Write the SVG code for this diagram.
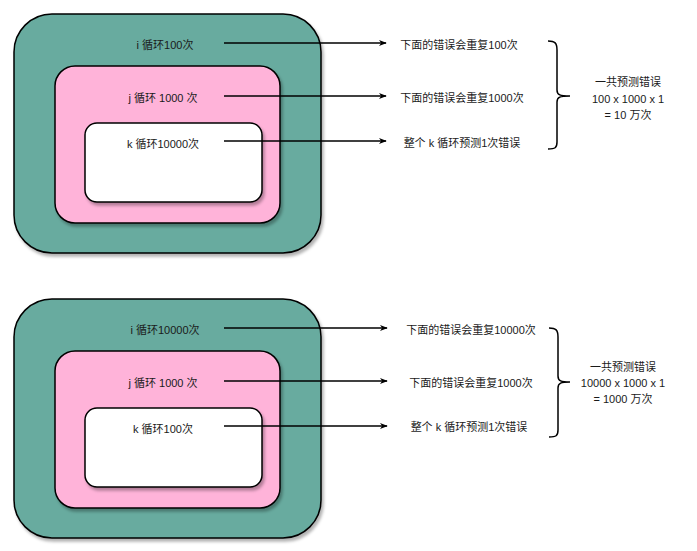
<svg xmlns="http://www.w3.org/2000/svg" width="697" height="551" viewBox="0 0 697 551">
<defs>
<filter id="sh" x="-10%" y="-10%" width="120%" height="120%">
<feDropShadow dx="2" dy="3" stdDeviation="1.5" flood-color="#000" flood-opacity="0.3"/>
</filter>
<marker id="ar" viewBox="0 0 10 10" refX="9" refY="5" markerWidth="8" markerHeight="8" orient="auto" markerUnits="userSpaceOnUse">
<path d="M0,1 L10,5 L0,9 L3,5 Z" fill="#000"/>
</marker>
</defs>
<style>
.outer{fill:#67AB9F;stroke:#000;stroke-width:1.5}
.mid{fill:#FFB3D9;stroke:#000;stroke-width:1.5}
.inner{fill:#FFFFFF;stroke:#000;stroke-width:1.5}
text{font-family:"Liberation Sans","Noto Sans CJK SC",sans-serif;font-size:11px;fill:#1a1a1a;text-anchor:middle;dominant-baseline:central}
.ln{stroke:#000;stroke-width:1.5;fill:none}
.br{stroke:#000;stroke-width:1.5;fill:none}
</style>
<rect width="697" height="551" fill="#fff"/>

<g id="top-i">
<rect class="outer" x="14" y="14" width="307" height="239" rx="38" filter="url(#sh)"/>
<text x="165" y="45">i 循环100次</text>
</g>
<g id="top-j">
<rect class="mid" x="55" y="66" width="225" height="157" rx="20" filter="url(#sh)"/>
<text x="163" y="98">j 循环 1000 次</text>
</g>
<g id="top-k">
<rect class="inner" x="85" y="123" width="177" height="79" rx="12" filter="url(#sh)"/>
<text x="163" y="144">k 循环10000次</text>
</g>
<g id="top-notes">
<text x="459" y="45">下面的错误会重复100次</text>
<text x="462" y="98">下面的错误会重复1000次</text>
<text x="462" y="143">整个 k 循环预测1次错误</text>
<text x="628" y="82">一共预测错误</text>
<text x="628" y="99">100 x 1000 x 1</text>
<text x="628" y="115">= 10 万次</text>
</g>

<g id="bottom-i">
<rect class="outer" x="14" y="299" width="307" height="239" rx="38" filter="url(#sh)"/>
<text x="165" y="330">i 循环10000次</text>
</g>
<g id="bottom-j">
<rect class="mid" x="55" y="351" width="225" height="157" rx="20" filter="url(#sh)"/>
<text x="163" y="383">j 循环 1000 次</text>
</g>
<g id="bottom-k">
<rect class="inner" x="85" y="408" width="177" height="79" rx="12" filter="url(#sh)"/>
<text x="163" y="429">k 循环100次</text>
</g>
<g id="bottom-notes">
<text x="471" y="330">下面的错误会重复10000次</text>
<text x="471" y="383">下面的错误会重复1000次</text>
<text x="469" y="427">整个 k 循环预测1次错误</text>
<text x="623" y="367">一共预测错误</text>
<text x="623" y="383">10000 x 1000 x 1</text>
<text x="623" y="399">= 1000 万次</text>
</g>

<g id="connectors">
<line class="ln" x1="224" y1="43" x2="386" y2="43" marker-end="url(#ar)"/>
<line class="ln" x1="224" y1="96" x2="386" y2="96" marker-end="url(#ar)"/>
<line class="ln" x1="224" y1="141" x2="386" y2="141" marker-end="url(#ar)"/>
<line class="ln" x1="224" y1="328" x2="387" y2="328" marker-end="url(#ar)"/>
<line class="ln" x1="224" y1="381" x2="387" y2="381" marker-end="url(#ar)"/>
<line class="ln" x1="224" y1="426" x2="387" y2="426" marker-end="url(#ar)"/>
<path class="br" d="M548,41 C555,41 557,43 557,50 L557,90 C557,95 560,96 570,96 C560,96 557,97 557,102 L557,142 C557,148 555,149 548,149"/>
<path class="br" d="M549,328 C556,328 558,330 558,337 L558,376 C558,381 561,382 570,382 C561,382 558,383 558,388 L558,430 C558,436 556,437 549,437"/>
</g>
</svg>
